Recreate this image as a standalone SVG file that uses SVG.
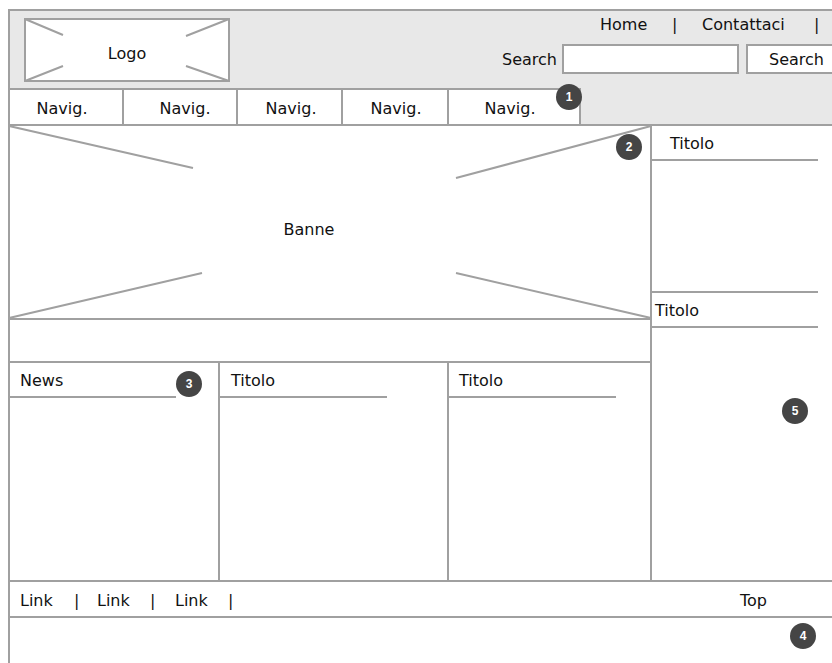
<svg xmlns="http://www.w3.org/2000/svg" width="832" height="663" viewBox="0 0 832 663">
<style>
.ln{stroke:#a0a0a0;stroke-width:2;fill:none}
.bx{stroke:#a0a0a0;stroke-width:2;fill:#fff}
.t{font-family:"DejaVu Sans",sans-serif;font-size:16px;fill:#111}
.tm{text-anchor:middle}
.bd{fill:#454545}
.bt{font-family:"Liberation Sans",Arial,sans-serif;font-size:12px;font-weight:bold;fill:#fff;text-anchor:middle}
</style>
<rect width="832" height="663" fill="#fff"/>
<g id="header">
<rect x="9" y="10" width="830" height="115" fill="#e8e8e8" stroke="#a0a0a0" stroke-width="2"/>
</g>
<g id="logo">
<rect class="bx" x="25" y="19" width="204" height="62"/>
<path class="ln" d="M25 19L63 35M229 19L186 36M25 81L63 66M229 81L186 66"/>
<text class="t tm" x="127" y="59">Logo</text>
</g>
<g id="toplinks">
<text class="t" x="600" y="30">Home</text>
<text class="t" x="672" y="30">|</text>
<text class="t" x="702" y="30">Contattaci</text>
<text class="t" x="814" y="30">|</text>
</g>
<g id="search">
<text class="t" x="557" y="65" text-anchor="end">Search</text>
<rect class="bx" x="563" y="45" width="175" height="28"/>
<rect class="bx" x="747" y="45" width="100" height="28"/>
<text class="t" x="769" y="65">Search</text>
</g>
<g id="nav">
<rect class="bx" x="9" y="89" width="571" height="36"/>
<path class="ln" d="M123 89V125M237 89V125M342 89V125M448 89V125"/>
<text class="t tm" x="62" y="114">Navig.</text>
<text class="t tm" x="185" y="114">Navig.</text>
<text class="t tm" x="291" y="114">Navig.</text>
<text class="t tm" x="396" y="114">Navig.</text>
<text class="t tm" x="510" y="114">Navig.</text>
</g>
<g id="banner">
<rect class="bx" x="9" y="125" width="642" height="194"/>
<path class="ln" d="M9 126L193 168M9 318L202 273M651 126L456 178M651 318L456 273"/>
<text class="t tm" x="309" y="235">Banne</text>
</g>
<g id="band">
<rect class="bx" x="9" y="319" width="642" height="43"/>
</g>
<g id="sidebar">
<path class="ln" d="M651 125V581"/>
<text class="t" x="670" y="149">Titolo</text>
<path class="ln" d="M651 160H818M651 292H818"/>
<text class="t" x="655" y="316">Titolo</text>
<path class="ln" d="M651 327H818"/>
</g>
<g id="news">
<path class="ln" d="M9 362H651M219 362V581M448 362V581"/>
<text class="t" x="20" y="386">News</text>
<path class="ln" d="M9 397H176"/>
<text class="t" x="231" y="386">Titolo</text>
<path class="ln" d="M220 397H387"/>
<text class="t" x="459" y="386">Titolo</text>
<path class="ln" d="M449 397H616"/>
</g>
<g id="footer">
<path class="ln" d="M9 581H832M9 617H832M9 10V663"/>
<text class="t" x="20" y="606">Link</text>
<text class="t" x="74" y="606">|</text>
<text class="t" x="97" y="606">Link</text>
<text class="t" x="150" y="606">|</text>
<text class="t" x="175" y="606">Link</text>
<text class="t" x="228" y="606">|</text>
<text class="t" x="740" y="606">Top</text>
</g>
<g id="badges">
<circle class="bd" cx="569" cy="97" r="13"/><text class="bt" x="569" y="101">1</text>
<circle class="bd" cx="629" cy="147" r="13"/><text class="bt" x="629" y="151">2</text>
<circle class="bd" cx="189" cy="384" r="13"/><text class="bt" x="189" y="388">3</text>
<circle class="bd" cx="803" cy="636" r="13"/><text class="bt" x="803" y="640">4</text>
<circle class="bd" cx="795" cy="411" r="13"/><text class="bt" x="795" y="415">5</text>
</g>
</svg>
